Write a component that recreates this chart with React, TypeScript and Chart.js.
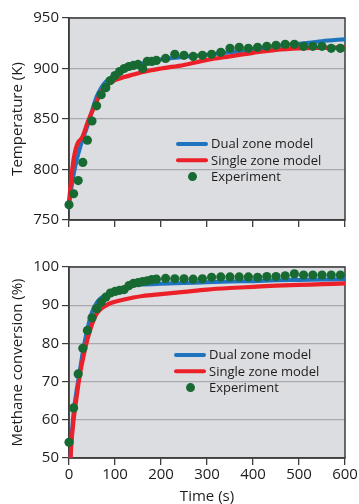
import React, { useEffect, useRef } from "react";
import { Chart, registerables } from "chart.js";

Chart.register(...registerables);

// ---------- DATA ----------
const timeTicks = [0, 100, 200, 300, 400, 500, 600];

const expTime = [
  0, 10, 20, 30, 40, 50, 60, 70, 80, 90, 100, 110, 120, 130, 140, 150, 160, 170, 180, 190,
  210, 230, 250, 270, 290, 310, 330, 350, 370, 390, 410, 430, 450, 470, 490, 510, 530, 550, 570, 590,
];

const tempExp = [
  765, 776, 789, 807, 829, 848, 863, 874, 881, 888, 893, 897, 900, 902, 903, 904, 900, 907, 907, 908,
  910, 914, 913, 912, 913, 914, 916, 920, 921, 920, 921, 922, 923, 924, 924, 922, 922, 922, 920, 920,
];

const convExp = [
  54.1, 63.1, 72.0, 78.7, 83.4, 86.7, 89.1, 90.8, 92.1, 93.2, 93.6, 93.9, 94.1, 95.1, 95.7, 95.9, 96.2, 96.4, 96.7, 96.8,
  97.0, 96.9, 96.9, 96.8, 96.9, 97.3, 97.4, 97.4, 97.4, 97.4, 97.3, 97.5, 97.5, 97.7, 98.2, 97.9, 97.9, 97.9, 97.9, 97.9,
];

const tempModelTime = [
  0, 5, 10, 15, 20, 25, 30, 40, 50, 60, 70, 80, 90, 100, 120, 140, 160, 200, 250, 300, 350, 400, 450, 500, 550, 600,
];
const tempDual = [
  765, 781, 795, 806, 815, 823, 830, 843, 858, 872, 881, 887, 890.5, 893, 898, 902, 905, 909, 911.5, 913.5, 916, 919, 922, 924.5, 927, 929,
];
const tempSingle = [
  768, 791, 810, 821, 827, 829.5, 833, 846, 857, 867, 877, 882, 886, 888.5, 891.5, 894, 896.5, 900, 903.5, 908.5, 912, 915.5, 918.5, 920, 920.5, 921,
];

const convModelTime = [
  2, 5, 10, 15, 20, 25, 30, 40, 50, 60, 70, 80, 90, 100, 120, 140, 160, 200, 250, 300, 350, 400, 450, 500, 550, 600,
];
const convDual = [
  47.5, 54, 62, 66.5, 70.3, 74, 77.8, 83.8, 88.2, 90.6, 91.9, 92.5, 93, 93.5, 94.4, 95.2, 95.4, 95.6, 95.8, 96, 96.2, 96.3, 96.5, 96.6, 96.7, 96.8,
];
const convSingle = [
  47, 53.5, 60, 64.6, 69, 72.8, 75.8, 81, 85, 87.8, 89.1, 89.9, 90.5, 90.9, 91.5, 92, 92.4, 92.9, 93.5, 94.1, 94.5, 94.8, 95.1, 95.3, 95.5, 95.7,
];

const legendLabels = ["Dual zone model", "Single zone model", "Experiment"];

// ---------- STYLE ----------
const FONT = "'Open Sans', 'Noto Sans', sans-serif";
const TEXT = "#1f1b1c";
const BG = "#dcdde0";
const GRID = "#a9aaad";
const FRAME = "#3c3c3c";
const BLUE = "#1f74bf";
const RED = "#ec2028";
const GREEN = "#176a32";

const zip = (xs: number[], ys: number[]) => xs.map((x, i) => ({ x, y: ys[i] }));

const framePlugin = {
  id: "frame",
  beforeDraw(chart: any) {
    const { ctx, chartArea } = chart;
    const { left, top, right, bottom } = chartArea;
    ctx.save();
    ctx.fillStyle = BG;
    ctx.fillRect(left, top, right - left, bottom - top);
    ctx.restore();
  },
  beforeDatasetsDraw(chart: any) {
    const { ctx, chartArea } = chart;
    const { left, top, right, bottom } = chartArea;
    ctx.save();
    ctx.strokeStyle = FRAME;
    ctx.lineWidth = 1.5;
    ctx.strokeRect(left, top, right - left, bottom - top);
    ctx.restore();
  },
};

function makeLegendPlugin(lx: number, ly: number) {
  // lx, ly: left x of line sample and y of first row (canvas coords)
  return {
    id: "insideLegend",
    afterDatasetsDraw(chart: any) {
      const { ctx } = chart;
      const rowH = 16.3;
      const colors = [BLUE, RED];
      ctx.save();
      ctx.font = `13px ${FONT}`;
      ctx.textBaseline = "middle";
      ctx.textAlign = "left";
      for (let i = 0; i < 3; i++) {
        const y = ly + i * rowH;
        if (i < 2) {
          ctx.strokeStyle = colors[i];
          ctx.lineWidth = 4;
          ctx.lineCap = "round";
          ctx.beginPath();
          ctx.moveTo(lx, y);
          ctx.lineTo(lx + 28, y);
          ctx.stroke();
        } else {
          ctx.fillStyle = GREEN;
          ctx.beginPath();
          ctx.arc(lx + 14.5, y, 4.5, 0, Math.PI * 2);
          ctx.fill();
        }
        ctx.fillStyle = TEXT;
        ctx.fillText(legendLabels[i], lx + 33, y + 0.5);
      }
      ctx.restore();
    },
  };
}

function buildConfig(kind: "temp" | "conv"): any {
  const isTemp = kind === "temp";
  const datasets: any[] = [
    {
      type: "scatter",
      label: legendLabels[2],
      data: zip(expTime, isTemp ? tempExp : convExp),
      backgroundColor: GREEN,
      borderWidth: 0,
      pointRadius: 4.6,
      pointHoverRadius: 4.6,
      clip: false,
      order: 0,
    },
    {
      type: "line",
      label: legendLabels[1],
      data: zip(isTemp ? tempModelTime : convModelTime, isTemp ? tempSingle : convSingle),
      borderColor: RED,
      borderWidth: 4.2,
      pointRadius: 0,
      fill: false,
      cubicInterpolationMode: "monotone",
      clip: { left: 3, right: 3, top: 3, bottom: 0 },
      order: 1,
    },
    {
      type: "line",
      label: legendLabels[0],
      data: zip(isTemp ? tempModelTime : convModelTime, isTemp ? tempDual : convDual),
      borderColor: BLUE,
      borderWidth: 4,
      pointRadius: 0,
      fill: false,
      cubicInterpolationMode: "monotone",
      clip: { left: 3, right: 3, top: 3, bottom: 0 },
      order: 2,
    },
  ];

  return {
    data: { datasets },
    options: {
      animation: false,
      responsive: false,
      devicePixelRatio: 1,
      events: [],
      layout: { padding: { top: isTemp ? 18 : 27, right: 14, left: 0, bottom: 0 } },
      plugins: { legend: { display: false }, tooltip: { enabled: false } },
      scales: {
        x: {
          type: "linear",
          min: 0,
          max: 600,
          afterBuildTicks: (s: any) => {
            s.ticks = timeTicks.map((v) => ({ value: v }));
          },
          ticks: {
            display: !isTemp,
            color: TEXT,
            font: { family: FONT, size: 15 },
            padding: 1,
            maxRotation: 0,
          },
          grid: {
            drawOnChartArea: false,
            drawTicks: true,
            tickLength: 7,
            tickColor: FRAME,
            lineWidth: 1.3,
          },
          border: { display: true, color: FRAME, width: 1.5 },
          title: {
            display: !isTemp,
            text: "Time (s)",
            color: TEXT,
            font: { family: FONT, size: 15, lineHeight: 1 },
            padding: { top: 0, bottom: 0 },
          },
          afterFit: (s: any) => {
            s.height = isTemp ? 20 : 46;
            s.paddingLeft = 0;
            s.paddingRight = 0;
          },
        },
        y: {
          type: "linear",
          min: isTemp ? 750 : 50,
          max: isTemp ? 950 : 100,
          ticks: {
            stepSize: isTemp ? 50 : 10,
            color: TEXT,
            font: { family: FONT, size: 15 },
            padding: 3,
          },
          grid: {
            color: GRID,
            lineWidth: 1.2,
            drawTicks: true,
            tickLength: 7,
            tickColor: FRAME,
          },
          border: { display: true, color: FRAME, width: 1.5 },
          title: {
            display: true,
            text: isTemp ? "Temperature (K)" : "Methane conversion (%)",
            color: TEXT,
            font: { family: FONT, size: 15 },
            padding: { top: 9, bottom: 0 },
          },
          afterFit: (s: any) => {
            s.width = 69;
            s.paddingTop = 0;
            s.paddingBottom = 0;
          },
        },
      },
    },
    plugins: [framePlugin, isTemp ? makeLegendPlugin(178, 144) : makeLegendPlugin(176, 115)],
  };
}

function ChartPanel({ kind, height }: { kind: "temp" | "conv"; height: number }) {
  const ref = useRef<HTMLCanvasElement | null>(null);
  useEffect(() => {
    if (!ref.current) return;
    const cfg = buildConfig(kind);
    const chart = new Chart(ref.current, cfg);
    return () => chart.destroy();
  }, [kind]);
  return <canvas ref={ref} width={359} height={height} style={{ display: "block", width: 359, height }} />;
}

export default function App() {
  useEffect(() => {
    document.body.style.margin = "0";
    document.body.style.background = "#ffffff";
  }, []);
  return (
    <div style={{ position: "fixed", left: 0, top: 0, width: 359, height: 504, background: "#fff" }}>
      <ChartPanel kind="temp" height={240} />
      <ChartPanel kind="conv" height={264} />
    </div>
  );
}
